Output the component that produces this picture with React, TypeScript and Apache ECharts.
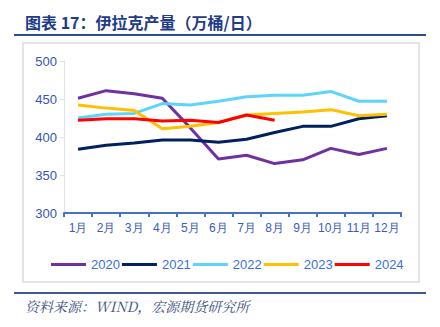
import React, { useEffect, useRef } from "react";
import * as echarts from "echarts";

const months = ["1月", "2月", "3月", "4月", "5月", "6月", "7月", "8月", "9月", "10月", "11月", "12月"];
const years = ["2020", "2021", "2022", "2023", "2024"];
const s2020 = [451, 461, 457, 451, 412, 371, 376, 365, 370, 385, 377, 385];
const s2021 = [384, 389, 392, 396, 396, 393, 397, 406, 414, 414, 424, 428];
const s2022 = [425, 430, 431, 444, 442, 447, 453, 455, 455, 460, 447, 447];
const s2023 = [442, 438, 435, 411, 414, 419, 429, 431, 433, 436, 428, 430];
const s2024 = [422, 424, 424, 421, 422, 419, 429, 422];
const colors = ["#7030a0", "#002060", "#5dd5fb", "#ffc000", "#ff0000"];
const titleText = "图表 17：伊拉克产量（万桶/日）";
const sourceText = "资料来源：WIND，宏源期货研究所";

export default function App() {
  const ref = useRef<HTMLDivElement>(null);
  useEffect(() => {
    const chart = echarts.init(ref.current!, null, { renderer: "svg" });
    const data = [s2020, s2021, s2022, s2023, s2024];
    chart.setOption({
      animation: false,
      backgroundColor: "#ffffff",
      color: colors,
      grid: { left: 64, right: 39, top: 61, bottom: 114 },
      graphic: [
        {
          type: "text",
          left: 25,
          top: 14,
          style: {
            text: titleText,
            font: "bold 16px 'Noto Sans CJK SC', sans-serif",
            fill: "#1f3c88",
          },
        },
        {
          type: "line",
          shape: { x1: 14, y1: 35, x2: 426, y2: 35 },
          style: { stroke: "#2e4f8f", lineWidth: 2 },
        },
        {
          type: "rect",
          shape: { x: 23, y: 43, width: 396, height: 239 },
          style: { fill: "none", stroke: "#dcdcdc", lineWidth: 1.5 },
          z: -1,
        },
        {
          type: "line",
          shape: { x1: 14, y1: 293, x2: 426, y2: 293 },
          style: { stroke: "#3d5a8f", lineWidth: 2 },
        },
        {
          type: "text",
          left: 25,
          top: 299,
          style: {
            text: sourceText,
            font: "italic 14px 'Noto Serif CJK SC', 'Noto Sans CJK SC', serif",
            fill: "#3a4f7f",
          },
        },
      ],
      legend: {
        data: years,
        left: 46,
        top: 253,
        icon: "rect",
        itemWidth: 35,
        itemHeight: 3,
        itemGap: 2,
        textStyle: { color: "#3b6fe0", fontSize: 13, fontFamily: "Liberation Sans, Arial" },
      },
      xAxis: {
        type: "category",
        data: months,
        boundaryGap: true,
        axisLine: { lineStyle: { color: "#4472c4", width: 2 } },
        axisTick: { show: true, length: 4, lineStyle: { color: "#4472c4", width: 2 } },
        axisLabel: { interval: 0, color: "#3a5bbf", fontSize: 12, fontFamily: "Liberation Sans, Arial", margin: 9 },
      },
      yAxis: {
        type: "value",
        min: 300,
        max: 500,
        interval: 50,
        axisLine: { show: true, lineStyle: { color: "#dde3ee", width: 1 } },
        axisTick: { show: true, length: 4, lineStyle: { color: "#dde3ee" } },
        splitLine: { show: false },
        axisLabel: { color: "#3556b5", fontSize: 13, fontFamily: "Liberation Sans, Arial", margin: 7 },
      },
      series: years.map((y, i) => ({
        name: y,
        type: "line",
        data: data[i],
        symbol: "none",
        lineStyle: { width: 3, color: colors[i] },
        itemStyle: { color: colors[i] },
        z: i === 4 ? 10 : 2 + i,
      })),
    });
    return () => chart.dispose();
  }, []);
  return (
    <div
      ref={ref}
      style={{ position: "fixed", left: 0, top: 0, width: 440, height: 327 }}
    />
  );
}
